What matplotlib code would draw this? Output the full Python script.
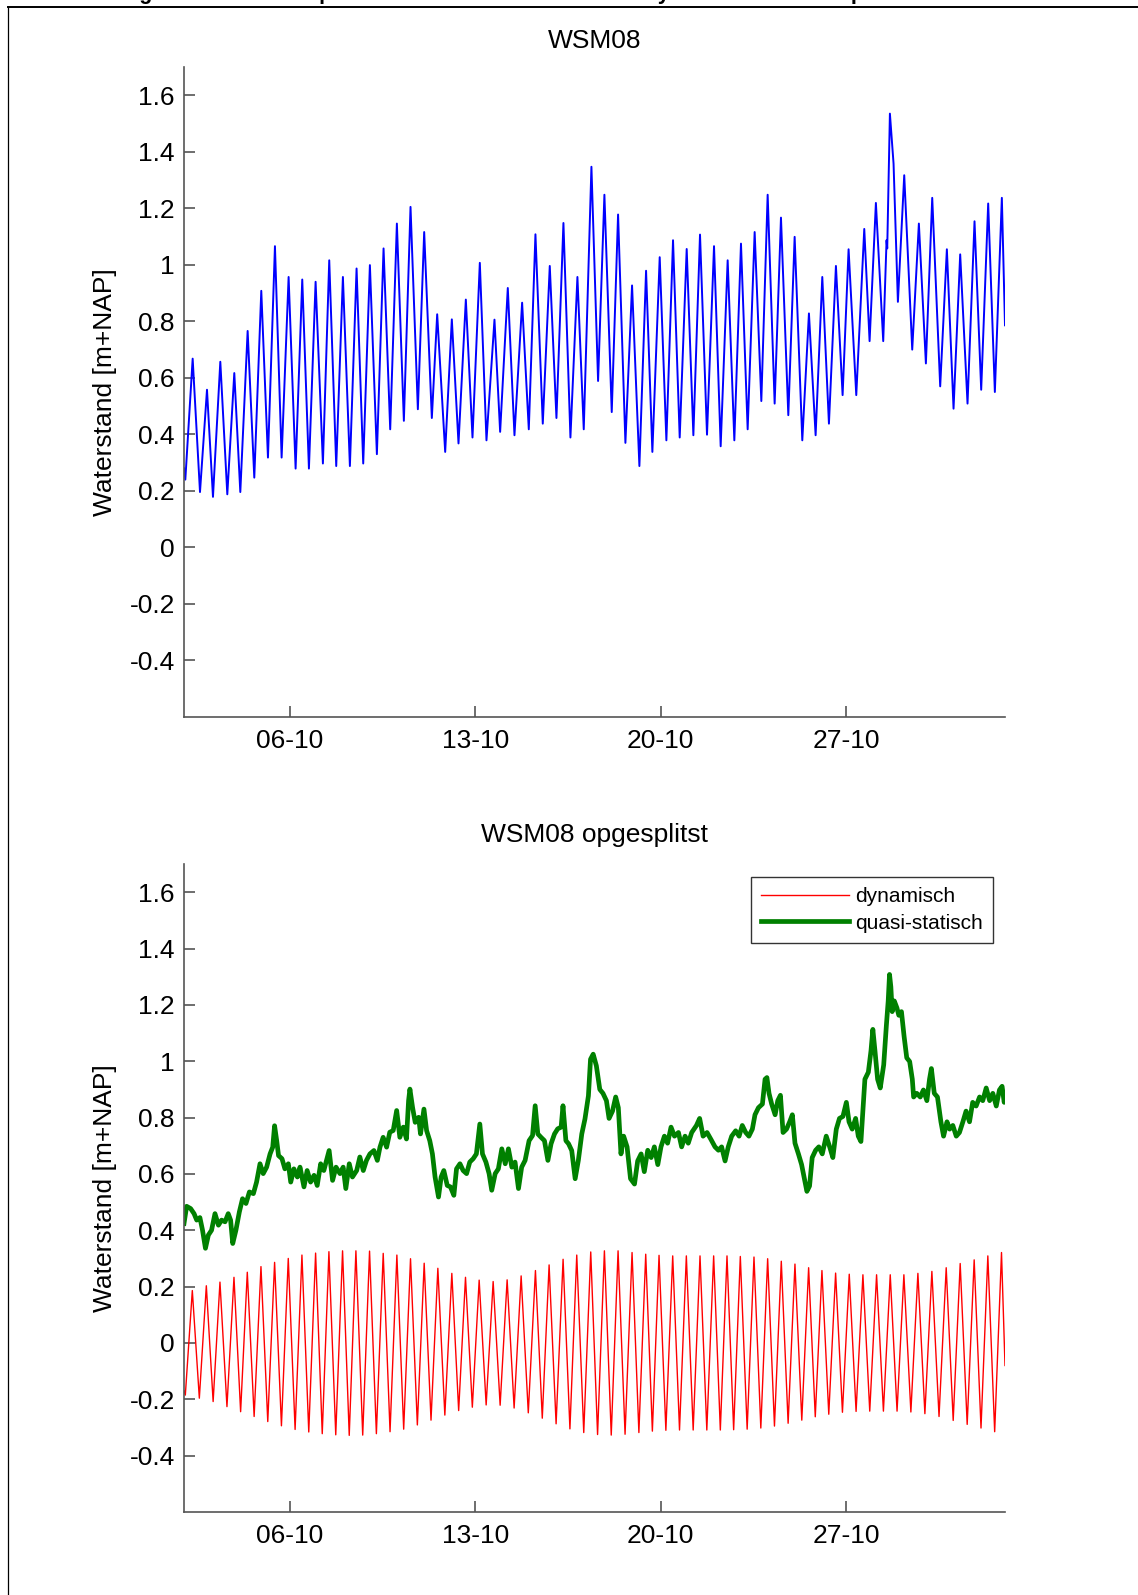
import numpy as np
import matplotlib
matplotlib.use("Agg")
import matplotlib.pyplot as plt
import matplotlib.dates as mdates
from matplotlib.lines import Line2D
from datetime import datetime

plt.rcParams['font.family'] = ['Liberation Sans', 'DejaVu Sans']

# time axis: days since 02-10 00:00
START = datetime(2013, 10, 2)

# WSM08 water level, high and low waters
wsm_t = [0.00, 0.05, 0.327, 0.604, 0.868, 1.094, 1.371, 1.635, 1.899, 2.126,
         2.403, 2.654, 2.918, 3.170, 3.434, 3.686, 3.950, 4.214, 4.465, 4.717,
         4.969, 5.245, 5.484, 5.748, 6.000, 6.264, 6.516, 6.767, 7.019, 7.283,
         7.535, 7.786, 8.038, 8.302, 8.553, 8.830, 9.069, 9.358, 9.560, 9.862,
         10.113, 10.365, 10.642, 10.893, 11.170, 11.421, 11.723, 11.937, 12.226, 12.478,
         12.767, 13.019, 13.270, 13.547, 13.811, 14.063, 14.327, 14.591, 14.855, 15.094,
         15.384, 15.635, 15.874, 16.151, 16.390, 16.667, 16.918, 17.195, 17.447, 17.685,
         17.962, 18.214, 18.465, 18.717, 18.981, 19.233, 19.484, 19.748, 20.013, 20.264,
         20.528, 20.780, 21.031, 21.283, 21.547, 21.799, 22.038, 22.302, 22.541, 22.818,
         23.057, 23.346, 23.597, 23.849, 24.101, 24.352, 24.616, 24.868, 25.094, 25.384,
         25.686, 25.887, 26.125, 26.402, 26.528, 26.553, 26.654, 26.792, 26.956, 27.195,
         27.497, 27.748, 28.013, 28.252, 28.553, 28.805, 29.057, 29.308, 29.585, 29.849,
         30.101, 30.365, 30.617, 30.881, 31.0]
wsm_v = [0.28, 0.24, 0.668, 0.196, 0.558, 0.179, 0.657, 0.188, 0.617, 0.196,
         0.766, 0.247, 0.908, 0.318, 1.066, 0.318, 0.957, 0.279, 0.948, 0.279,
         0.940, 0.297, 1.016, 0.288, 0.957, 0.288, 0.987, 0.297, 0.999, 0.330,
         1.058, 0.418, 1.146, 0.448, 1.205, 0.489, 1.116, 0.458, 0.825, 0.338,
         0.807, 0.368, 0.877, 0.389, 1.007, 0.379, 0.806, 0.409, 0.918, 0.397,
         0.866, 0.418, 1.108, 0.438, 0.996, 0.458, 1.148, 0.389, 0.957, 0.418,
         1.347, 0.589, 1.248, 0.479, 1.178, 0.370, 0.927, 0.288, 0.979, 0.338,
         1.027, 0.379, 1.087, 0.389, 1.056, 0.397, 1.107, 0.399, 1.066, 0.358,
         1.016, 0.379, 1.075, 0.418, 1.116, 0.518, 1.248, 0.509, 1.167, 0.468,
         1.099, 0.379, 0.828, 0.397, 0.957, 0.438, 0.996, 0.539, 1.055, 0.539,
         1.127, 0.730, 1.219, 0.730, 1.087, 1.058, 1.535, 1.358, 0.869, 1.317,
         0.700, 1.146, 0.651, 1.237, 0.570, 1.055, 0.491, 1.037, 0.509, 1.154,
         0.558, 1.217, 0.550, 1.237, 0.786]

# dynamic (tidal) part: high and low waters
dyn_t = [0.00, 0.05, 0.314, 0.579, 0.843, 1.100, 1.358, 1.622, 1.887, 2.138,
         2.390, 2.648, 2.906, 3.163, 3.421, 3.679, 3.937, 4.195, 4.453, 4.711,
         4.969, 5.220, 5.472, 5.730, 5.987, 6.239, 6.491, 6.748, 7.006, 7.264,
         7.522, 7.780, 8.038, 8.295, 8.553, 8.811, 9.069, 9.327, 9.585, 9.849,
         10.113, 10.371, 10.629, 10.887, 11.145, 11.409, 11.673, 11.937, 12.201, 12.465,
         12.730, 13.000, 13.270, 13.528, 13.786, 14.050, 14.314, 14.572, 14.830, 15.094,
         15.358, 15.616, 15.874, 16.132, 16.390, 16.654, 16.918, 17.176, 17.434, 17.685,
         17.937, 18.195, 18.453, 18.710, 18.968, 19.226, 19.484, 19.741, 19.999, 20.251,
         20.503, 20.754, 21.006, 21.264, 21.522, 21.780, 22.038, 22.295, 22.553, 22.811,
         23.069, 23.327, 23.585, 23.836, 24.088, 24.346, 24.604, 24.862, 25.119, 25.377,
         25.635, 25.893, 26.151, 26.409, 26.667, 26.924, 27.182, 27.446, 27.711, 27.975,
         28.239, 28.509, 28.780, 29.044, 29.308, 29.572, 29.836, 30.094, 30.352, 30.610,
         30.868, 31.0]
dyn_v = [-0.17, -0.185, 0.186, -0.196, 0.203, -0.208, 0.216, -0.226, 0.233, -0.244,
         0.251, -0.261, 0.271, -0.279, 0.286, -0.294, 0.300, -0.307, 0.312, -0.316,
         0.319, -0.322, 0.324, -0.326, 0.327, -0.328, 0.327, -0.327, 0.326, -0.322,
         0.318, -0.315, 0.312, -0.306, 0.299, -0.291, 0.283, -0.274, 0.265, -0.256,
         0.247, -0.240, 0.233, -0.228, 0.223, -0.220, 0.218, -0.221, 0.224, -0.231,
         0.238, -0.248, 0.257, -0.267, 0.277, -0.287, 0.297, -0.305, 0.312, -0.318,
         0.323, -0.325, 0.327, -0.327, 0.327, -0.324, 0.321, -0.318, 0.315, -0.313,
         0.311, -0.310, 0.309, -0.309, 0.309, -0.309, 0.309, -0.309, 0.309, -0.309,
         0.309, -0.308, 0.307, -0.306, 0.305, -0.302, 0.299, -0.295, 0.290, -0.285,
         0.280, -0.274, 0.267, -0.262, 0.257, -0.253, 0.248, -0.246, 0.244, -0.243,
         0.242, -0.242, 0.242, -0.242, 0.242, -0.242, 0.242, -0.245, 0.247, -0.251,
         0.254, -0.261, 0.267, -0.275, 0.282, -0.289, 0.295, -0.302, 0.309, -0.315,
         0.321, -0.08]

# quasi-static part
qs_t = [0.00, 0.10, 0.25, 0.38, 0.48, 0.60, 0.70, 0.81, 0.92, 1.04,
        1.17, 1.30, 1.42, 1.55, 1.67, 1.76, 1.84, 1.96, 2.09, 2.21,
        2.34, 2.47, 2.62, 2.74, 2.87, 2.99, 3.12, 3.25, 3.35, 3.42,
        3.50, 3.57, 3.70, 3.81, 3.94, 4.03, 4.15, 4.28, 4.38, 4.53,
        4.65, 4.78, 4.91, 5.03, 5.16, 5.28, 5.38, 5.48, 5.61, 5.74,
        5.89, 6.01, 6.11, 6.24, 6.36, 6.52, 6.64, 6.77, 6.89, 7.02,
        7.17, 7.30, 7.40, 7.52, 7.65, 7.77, 7.90, 8.03, 8.15, 8.28,
        8.40, 8.48, 8.53, 8.63, 8.73, 8.86, 8.93, 9.06, 9.16, 9.28,
        9.38, 9.48, 9.61, 9.71, 9.81, 9.94, 10.06, 10.19, 10.29, 10.42,
        10.54, 10.67, 10.79, 10.92, 11.04, 11.17, 11.27, 11.40, 11.52, 11.62,
        11.75, 11.87, 12.00, 12.13, 12.25, 12.38, 12.50, 12.63, 12.75, 12.88,
        13.03, 13.16, 13.26, 13.36, 13.48, 13.61, 13.74, 13.86, 13.99, 14.11,
        14.24, 14.31, 14.42, 14.52, 14.64, 14.77, 14.89, 15.02, 15.14, 15.27,
        15.35, 15.45, 15.57, 15.70, 15.82, 15.95, 16.05, 16.18, 16.30, 16.40,
        16.50, 16.60, 16.73, 16.86, 17.01, 17.13, 17.26, 17.38, 17.51, 17.64,
        17.76, 17.89, 18.01, 18.14, 18.26, 18.39, 18.52, 18.67, 18.79, 18.92,
        19.04, 19.17, 19.35, 19.47, 19.60, 19.75, 19.90, 20.05, 20.18, 20.30,
        20.43, 20.55, 20.68, 20.83, 20.96, 21.08, 21.21, 21.33, 21.46, 21.56,
        21.69, 21.84, 21.94, 22.01, 22.09, 22.19, 22.32, 22.42, 22.52, 22.62,
        22.75, 22.87, 22.97, 23.07, 23.20, 23.32, 23.45, 23.52, 23.62, 23.72,
        23.85, 23.97, 24.10, 24.25, 24.38, 24.50, 24.63, 24.75, 24.88, 25.01,
        25.11, 25.23, 25.36, 25.46, 25.56, 25.64, 25.71, 25.84, 25.94, 26.01,
        26.09, 26.19, 26.29, 26.42, 26.52, 26.59, 26.64, 26.69, 26.74, 26.82,
        26.92, 26.99, 27.09, 27.19, 27.29, 27.40, 27.50, 27.55, 27.67, 27.80,
        27.92, 28.05, 28.15, 28.22, 28.33, 28.45, 28.58, 28.68, 28.81, 28.91,
        29.03, 29.16, 29.28, 29.41, 29.53, 29.66, 29.78, 29.91, 30.04, 30.16,
        30.29, 30.42, 30.54, 30.67, 30.79, 30.89, 30.97, 31.0]
qs_v = [0.424, 0.485, 0.477, 0.459, 0.436, 0.445, 0.400, 0.336, 0.383, 0.400,
        0.459, 0.418, 0.436, 0.430, 0.459, 0.436, 0.353, 0.400, 0.465, 0.512,
        0.495, 0.536, 0.530, 0.571, 0.636, 0.601, 0.624, 0.671, 0.695, 0.771,
        0.718, 0.665, 0.654, 0.618, 0.636, 0.571, 0.618, 0.589, 0.624, 0.554,
        0.612, 0.571, 0.595, 0.559, 0.636, 0.612, 0.648, 0.683, 0.577, 0.624,
        0.601, 0.624, 0.548, 0.636, 0.589, 0.612, 0.660, 0.612, 0.648, 0.671,
        0.683, 0.648, 0.695, 0.730, 0.695, 0.748, 0.754, 0.825, 0.730, 0.766,
        0.724, 0.860, 0.901, 0.836, 0.783, 0.801, 0.742, 0.830, 0.754, 0.718,
        0.671, 0.589, 0.518, 0.589, 0.612, 0.559, 0.554, 0.524, 0.618, 0.636,
        0.612, 0.601, 0.642, 0.654, 0.671, 0.777, 0.671, 0.642, 0.601, 0.542,
        0.601, 0.618, 0.689, 0.636, 0.689, 0.624, 0.642, 0.548, 0.624, 0.648,
        0.718, 0.736, 0.842, 0.742, 0.730, 0.718, 0.648, 0.707, 0.742, 0.760,
        0.766, 0.842, 0.718, 0.707, 0.683, 0.583, 0.648, 0.742, 0.795, 0.877,
        1.007, 1.025, 0.984, 0.900, 0.886, 0.860, 0.797, 0.823, 0.873, 0.835,
        0.671, 0.734, 0.696, 0.583, 0.564, 0.646, 0.671, 0.608, 0.684, 0.658,
        0.696, 0.633, 0.696, 0.734, 0.709, 0.766, 0.734, 0.747, 0.696, 0.734,
        0.709, 0.747, 0.772, 0.797, 0.734, 0.747, 0.722, 0.696, 0.684, 0.696,
        0.646, 0.696, 0.734, 0.753, 0.734, 0.772, 0.747, 0.734, 0.759, 0.810,
        0.835, 0.848, 0.936, 0.942, 0.886, 0.848, 0.810, 0.860, 0.879, 0.747,
        0.759, 0.785, 0.810, 0.709, 0.671, 0.633, 0.570, 0.538, 0.557, 0.658,
        0.684, 0.696, 0.671, 0.734, 0.696, 0.658, 0.759, 0.797, 0.804, 0.854,
        0.785, 0.759, 0.797, 0.734, 0.715, 0.835, 0.936, 0.961, 1.037, 1.113,
        1.037, 0.936, 0.905, 0.987, 1.126, 1.214, 1.308, 1.264, 1.176, 1.214,
        1.189, 1.163, 1.176, 1.088, 1.012, 0.999, 0.936, 0.873, 0.886, 0.873,
        0.898, 0.860, 0.936, 0.974, 0.886, 0.873, 0.785, 0.734, 0.785, 0.759,
        0.772, 0.734, 0.747, 0.785, 0.823, 0.785, 0.854, 0.841, 0.873, 0.860,
        0.905, 0.860, 0.886, 0.841, 0.898, 0.911, 0.854, 0.873]

ytick_vals = [-0.4, -0.2, 0, 0.2, 0.4, 0.6, 0.8, 1, 1.2, 1.4, 1.6]
ytick_labels = ['-0.4', '-0.2', '0', '0.2', '0.4', '0.6', '0.8', '1', '1.2', '1.4', '1.6']

t0 = mdates.date2num(START)


def to_dates(days):
    return t0 + np.asarray(days)


AXCOL = '#555555'


# matlab-like axes: only left and bottom line, ticks pointing inward
def style(ax, title, title_pad):
    for s in ['top', 'right']:
        ax.spines[s].set_visible(False)
    for s in ['left', 'bottom']:
        ax.spines[s].set_color(AXCOL)
        ax.spines[s].set_linewidth(1.2)
    ax.set_xlim(t0, t0 + 31)
    ax.set_ylim(-0.6, 1.7)
    ax.set_yticks(ytick_vals)
    ax.set_yticklabels(ytick_labels)
    ax.xaxis.set_major_locator(mdates.DayLocator(bymonthday=[6, 13, 20, 27]))
    ax.xaxis.set_major_formatter(mdates.DateFormatter('%d-%m'))
    ax.tick_params(direction='in', length=8, width=1.2, color=AXCOL,
                   labelsize=19, labelcolor='black')
    ax.tick_params(axis='y', pad=6.5)
    ax.tick_params(axis='x', pad=8.5)
    ax.set_title(title, fontsize=19, pad=title_pad)


fig = plt.figure(figsize=(11.38, 15.95), dpi=100)
W, H = 1138, 1595

ax1 = fig.add_axes([184 / W, 1 - 717 / H, 821 / W, 650 / H])
ax2 = fig.add_axes([184 / W, 1 - 1512 / H, 821 / W, 648 / H])

ax1.plot(to_dates(wsm_t), wsm_v, color=(0, 0, 1), lw=1.4)
style(ax1, 'WSM08', 14)

ax2.plot(to_dates(dyn_t), dyn_v, color=(1, 0, 0), lw=1.0, label='dynamisch')
ax2.plot(to_dates(qs_t), qs_v, color=(0, 0.5, 0), lw=3.4, label='quasi-statisch')
style(ax2, 'WSM08 opgesplitst', 16)
leg = ax2.legend(loc='upper right', bbox_to_anchor=(993 / W, 1 - 877 / H),
                 bbox_transform=fig.transFigure, fontsize=15, fancybox=False,
                 framealpha=1, edgecolor='#333333', handlelength=4.2,
                 handletextpad=0.3, borderpad=0.5, labelspacing=0.35,
                 borderaxespad=0)
leg.get_frame().set_linewidth(1.0)

for yc in [392, 1188]:
    fig.text(105 / W, 1 - yc / H, 'Waterstand [m+NAP]', rotation=90,
             ha='center', va='center', fontsize=19)

# frame of the figure and the caption cut off above it
fig.add_artist(Line2D([7.5 / W, 1.01], [1 - 6.5 / H] * 2, transform=fig.transFigure,
                      color='black', lw=1.4))
fig.add_artist(Line2D([7.5 / W] * 2, [1 - 6.5 / H, -0.01], transform=fig.transFigure,
                      color='black', lw=0.9))
fig.text(41 / W, 1 + 0.5 / H,
         'Afbeelding 3: Waterstand op WSM08 als totaal en som van dynamisch deel en quasi-statisch deel',
         fontsize=15.5, fontweight='bold', ha='left', va='baseline')

fig.savefig('out.png', dpi=100)
